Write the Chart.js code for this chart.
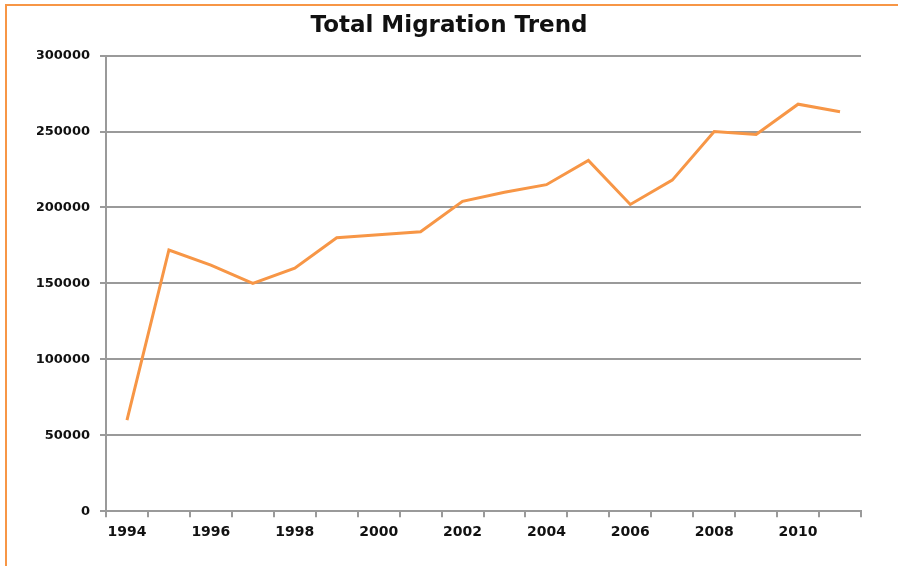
<!DOCTYPE html>
<html>
<head>
<meta charset="utf-8">
<script src="https://cdn.jsdelivr.net/npm/chart.js@4"></script>
<style>
  html, body { margin: 0; padding: 0; background: #fff; overflow: hidden; }
  #wrap { position: absolute; left: 0; top: 0; width: 898px; height: 566px; }
  #frame {
    position: absolute; left: 5px; top: 4px; width: 1000px; height: 700px;
    border-left: 2px solid #f79646; border-top: 2px solid #f79646;
    pointer-events: none;
  }
</style>
</head>
<body>
<div id="wrap"><canvas id="migrationChart" width="898" height="566"></canvas></div>
<div id="frame"></div>
<script>
// Data
const years = ['1994', '1995', '1996', '1997', '1998', '1999', '2000', '2001', '2002',
               '2003', '2004', '2005', '2006', '2007', '2008', '2009', '2010', '2011'];
const totalMigration = [60000, 172000, 162000, 150000, 160000, 180000, 182000, 184000, 204000,
                        210000, 215000, 231000, 202000, 218000, 250000, 248000, 268000, 263000];
const yTicks = [0, 50000, 100000, 150000, 200000, 250000, 300000];

const gridGrey = '#9a9a9a';

const config = {
    type: 'line',
    data: {
        labels: years,
        datasets: [{
            label: 'Total Migration',
            data: totalMigration,
            borderColor: '#f79646',
            borderWidth: 3,
            pointRadius: 0,
            tension: 0,
            fill: false
        }]
    },
    options: {
        responsive: false,
        animation: false,
        layout: { padding: { left: 37, right: 37, top: 4, bottom: 18 } },
        plugins: {
            legend: { display: false },
            tooltip: { enabled: false },
            title: {
                display: true,
                text: 'Total Migration Trend',
                color: '#111',
                font: { family: 'DejaVu Sans', size: 23, weight: 'bold' },
                padding: { top: 8, bottom: 16 }
            }
        },
        scales: {
            x: {
                type: 'category',
                offset: true,
                grid: {
                    offset: true,
                    drawOnChartArea: false,
                    drawTicks: true,
                    tickLength: 6,
                    color: gridGrey,
                    lineWidth: 2
                },
                border: { color: gridGrey, width: 2 },
                ticks: {
                    autoSkip: false,
                    maxRotation: 0,
                    color: '#111',
                    font: { family: 'DejaVu Sans', size: 14, weight: 'bold' },
                    padding: 7,
                    callback: function (val, i) { return i % 2 === 0 ? years[i] : ''; }
                }
            },
            y: {
                min: 0,
                max: 300000,
                afterBuildTicks: function (axis) { axis.ticks = yTicks.map(v => ({ value: v })); },
                afterFit: function (axis) { axis.width = 69; },
                grid: { color: gridGrey, lineWidth: 2, tickLength: 6 },
                border: { color: gridGrey, width: 2 },
                ticks: {
                    color: '#111',
                    font: { family: 'DejaVu Sans', size: 13, weight: 'bold' },
                    padding: 10,
                    callback: function (v) { return String(v); }
                }
            }
        }
    }
};

window.onload = function () {
    const ctx = document.getElementById('migrationChart').getContext('2d');
    new Chart(ctx, config);
};
</script>
</body>
</html>
